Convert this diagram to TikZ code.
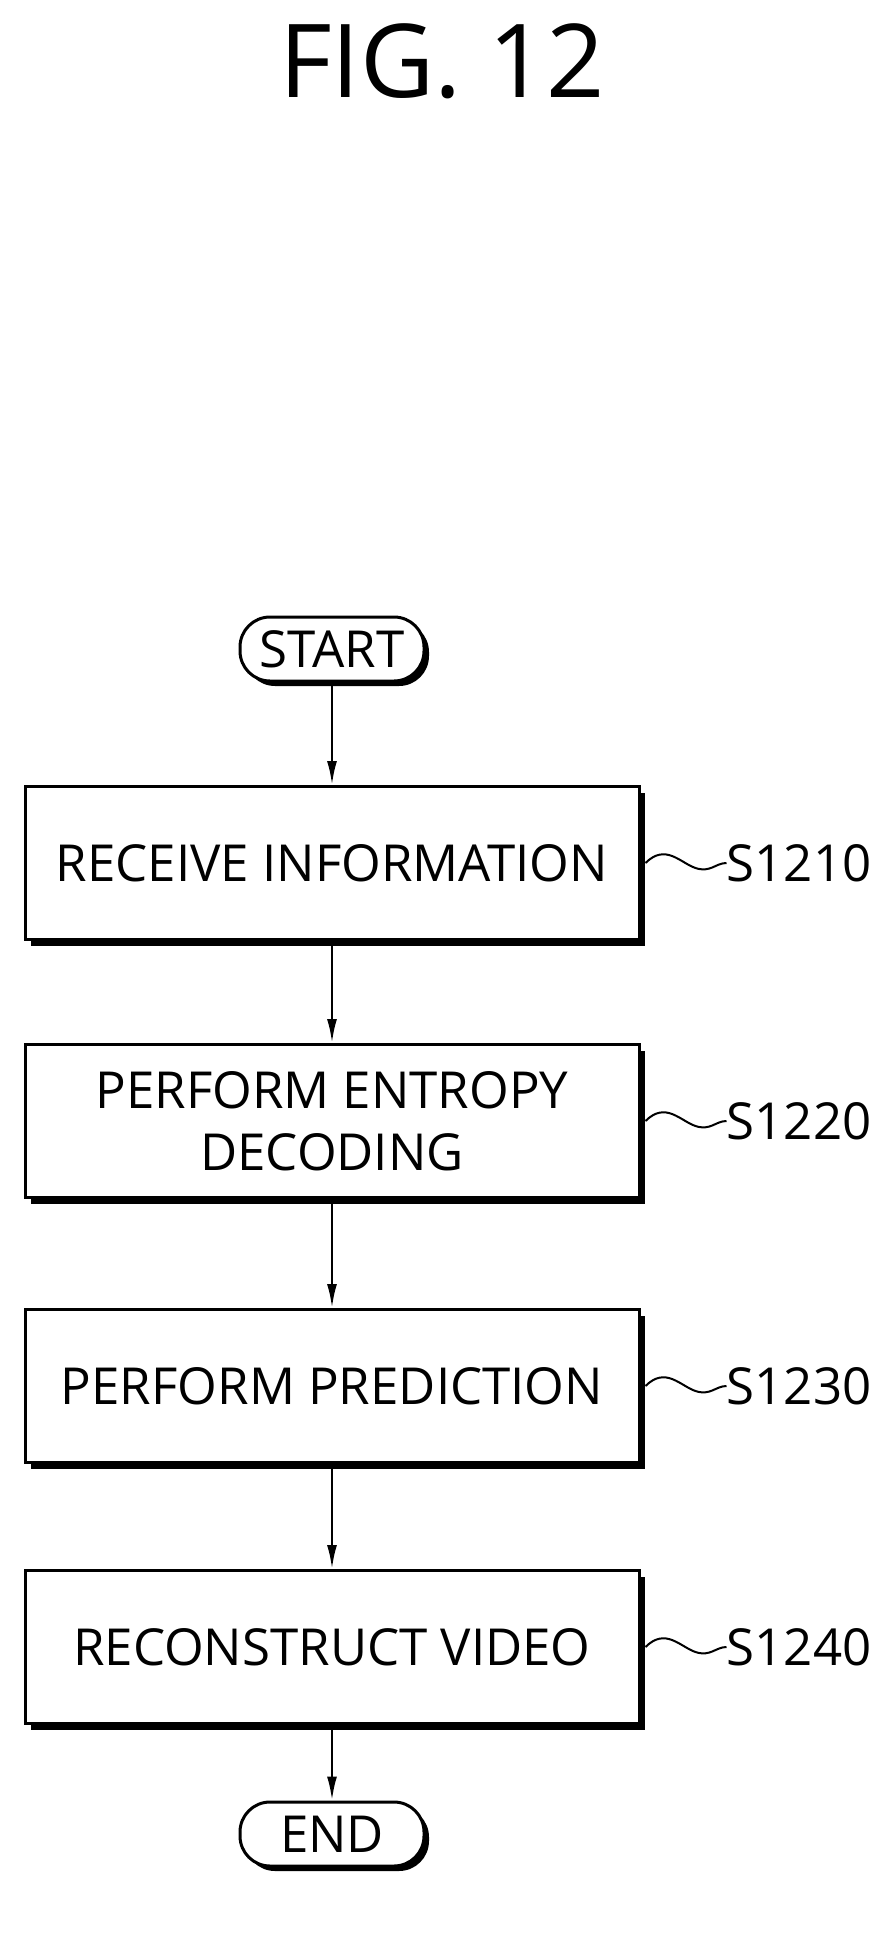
\documentclass[tikz,border=0pt]{standalone}
\usepackage{fontspec}
\setmainfont{Open Sans}
\usetikzlibrary{shadows,positioning,calc,arrows.meta}
\begin{document}
\begin{tikzpicture}[x=1pt, y=-1pt, font=\fontsize{51}{62}\selectfont,
stepbox/.style={draw, line width=3pt, fill=white, minimum width=614pt, minimum height=153pt, align=center,
  drop shadow={shadow xshift=6pt, shadow yshift=-6pt, fill=black, opacity=1}},
term/.style={draw, line width=3pt, fill=white, rounded corners=30pt, minimum width=184pt, minimum height=64pt,
  drop shadow={shadow xshift=5pt, shadow yshift=-5pt, fill=black, opacity=1}},
flow/.style={-{Latex[length=24pt, width=10pt]}, line width=2.5pt}]
\useasboundingbox (0,0) rectangle (885,1938);
\node (title) at (442,61) {\fontsize{102}{110}\selectfont FIG.\ 12};
\node [term] (start) at (332,649) {START};
\node [stepbox] (s1210) at (332,863) {RECEIVE INFORMATION};
\node [stepbox] (s1220) at (332,1121) {PERFORM ENTROPY\\DECODING};
\node [stepbox] (s1230) at (332,1386) {PERFORM PREDICTION};
\node [stepbox] (s1240) at (332,1647) {RECONSTRUCT VIDEO};
\node [term] (end) at (332,1834) {END};
\draw [flow] (start) -- (s1210);
\draw [flow] (s1210) -- (s1220);
\draw [flow] (s1220) -- (s1230);
\draw [flow] (s1230) -- (s1240);
\draw [flow] (s1240) -- (end);
% step labels
\foreach \s in {1210,1220,1230,1240} {
  \node [anchor=west, inner sep=0pt] (l\s) at ([xshift=86pt]s\s.east) {S\s};
  \draw [line width=2pt] ($(s\s.east)+(5,0)$) .. controls ($(s\s.east)+(25,-20)$) and ($(s\s.east)+(40,0)$) .. ($(s\s.east)+(55,5)$) .. controls ($(s\s.east)+(70,10)$) and ($(s\s.east)+(75,0)$) .. (l\s.west);
}
\end{tikzpicture}
\end{document}
